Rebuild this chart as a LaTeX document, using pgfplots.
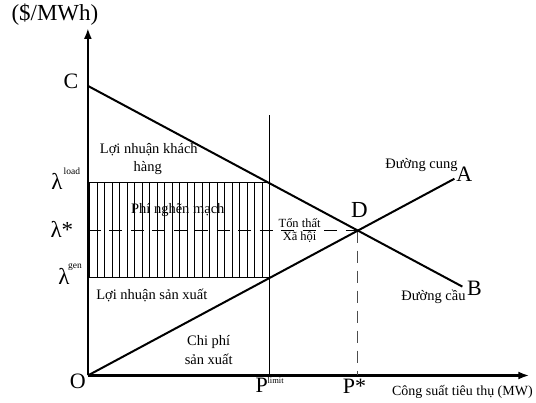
\documentclass[border=0pt]{standalone}
\usepackage{fontspec}
\setmainfont{Liberation Serif}
\usepackage{pgfplots}
\pgfplotsset{compat=1.18}
\usetikzlibrary{arrows.meta,patterns.meta}
\begin{document}
\begin{tikzpicture}
\begin{axis}[
  x=1pt, y=1pt,
  xmin=0, xmax=442, ymin=0, ymax=348,
  axis lines=left,
  axis line style={line width=2.2pt, -{Latex[length=11pt,width=8pt]}},
  xtick=\empty, ytick=\empty,
  clip=false,
]
% invisible frame giving the page size
\draw[draw=none] (axis cs:-88,-27) rectangle (axis cs:448,376);
% congestion rectangle with hatching
\addplot[draw=none, pattern={Lines[angle=90,distance=7.5pt,line width=0.9pt]}]
  coordinates {(0,98) (182,98) (182,193) (0,193)} -- cycle;
\addplot[line width=1.5pt] coordinates {(0,193) (182,193)};
\addplot[line width=1.5pt] coordinates {(0,98) (182,98)};
% P limit line
\addplot[line width=1.3pt] coordinates {(182,0) (182,261)};
% lambda* dashed and P* dashed
\addplot[line width=1.5pt, dash pattern=on 13pt off 8.5pt] coordinates {(0,145) (270,145)};
\addplot[line width=1.2pt, black!70, dash pattern=on 12pt off 8pt] coordinates {(270,145) (270,0)};
% demand and supply
\addplot[line width=2pt] coordinates {(0,290) (375,89)};
\addplot[line width=2pt] coordinates {(0,0) (367,197)};
% labels
\node[font=\fontsize{23}{23}\selectfont] at (axis cs:-33,361) {(\$/MWh)};
\node[font=\fontsize{22}{22}\selectfont] at (axis cs:-17,295) {C};
\node[font=\fontsize{22}{22}\selectfont] at (axis cs:-10,-6) {O};
\node[font=\fontsize{23}{23}\selectfont] at (axis cs:-31,194) {λ};
\node[font=\fontsize{9.5}{9.5}\selectfont] at (axis cs:-16,205) {load};
\node[font=\fontsize{23}{23}\selectfont] at (axis cs:-26,146) {λ*};
\node[font=\fontsize{23}{23}\selectfont] at (axis cs:-24,99) {λ};
\node[font=\fontsize{9.5}{9.5}\selectfont] at (axis cs:-13,109) {gen};
\node[font=\fontsize{14.5}{14.5}\selectfont] at (axis cs:61,226) {Lợi nhuận khách};
\node[font=\fontsize{14.5}{14.5}\selectfont] at (axis cs:60,208) {hàng};
\node[font=\fontsize{14.5}{14.5}\selectfont] at (axis cs:90,166) {Phí nghẽn mạch};
\node[font=\fontsize{14.5}{14.5}\selectfont] at (axis cs:64,80) {Lợi nhuận sản xuất};
\node[font=\fontsize{14.5}{14.5}\selectfont] at (axis cs:121,34) {Chi phí};
\node[font=\fontsize{14.5}{14.5}\selectfont] at (axis cs:121,16) {sản xuất};
\node[font=\fontsize{12.5}{12.5}\selectfont] at (axis cs:212,153) {Tổn thất};
\node[font=\fontsize{12.5}{12.5}\selectfont] at (axis cs:212,138) {Xã hội};
\node[font=\fontsize{23}{23}\selectfont] at (axis cs:272,166) {D};
\node[font=\fontsize{14.5}{14.5}\selectfont] at (axis cs:334,211) {Đường cung};
\node[font=\fontsize{22}{22}\selectfont] at (axis cs:377,202) {A};
\node[font=\fontsize{14.5}{14.5}\selectfont] at (axis cs:346,79) {Đường cầu};
\node[font=\fontsize{22}{22}\selectfont] at (axis cs:387,87) {B};
\node[font=\fontsize{22}{22}\selectfont] at (axis cs:174,-10) {P};
\node[font=\fontsize{8.5}{8.5}\selectfont] at (axis cs:188,-5) {limit};
\node[font=\fontsize{22}{22}\selectfont] at (axis cs:267,-11) {P*};
\node[font=\fontsize{14}{14}\selectfont] at (axis cs:375,-16) {Công suất tiêu thụ (MW)};
\end{axis}
\end{tikzpicture}
\end{document}
